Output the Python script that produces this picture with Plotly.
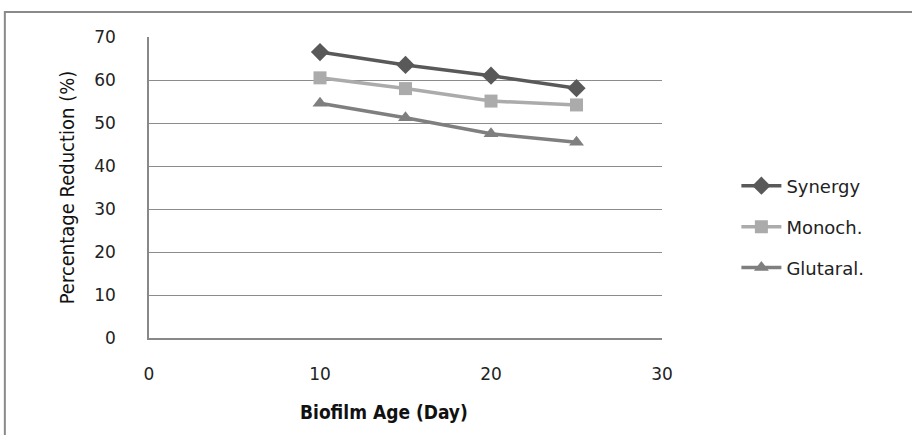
import plotly.graph_objects as go

days = [10, 15, 20, 25]
synergy = [66.5, 63.5, 61.0, 58.1]
monoch = [60.5, 58.0, 55.1, 54.2]
glutaral = [54.6, 51.2, 47.5, 45.5]
series_names = ["Synergy", "Monoch.", "Glutaral."]
x_ticks = [0, 10, 20, 30]
y_ticks = [0, 10, 20, 30, 40, 50, 60, 70]

fig = go.Figure()
styles = [
    (synergy, "#595959", "diamond", 14, "legend"),
    (monoch, "#ababab", "square", 13, "legend2"),
    (glutaral, "#7f7f7f", "triangle-up", 13, "legend3"),
]
for name, (vals, col, sym, sz, lg) in zip(series_names, styles):
    fig.add_trace(go.Scatter(
        x=days, y=vals, name=name, mode="lines+markers",
        line=dict(color=col, width=3.5),
        marker=dict(symbol=sym, size=sz, color=col),
        legend=lg, showlegend=True,
    ))

leg_font = dict(family="DejaVu Sans", size=18, color="#222")
def leg(ypos):
    return dict(x=1.145, y=ypos, xanchor="left", yanchor="middle",
                font=leg_font, itemwidth=40, bgcolor="rgba(0,0,0,0)")

fig.update_layout(
    width=912, height=435,
    showlegend=True,
    margin=dict(l=149, r=250, t=37, b=97),
    paper_bgcolor="white", plot_bgcolor="white",
    font=dict(family="DejaVu Sans", size=17, color="#222"),
    xaxis=dict(
        range=[0, 30], tickvals=x_ticks, showgrid=False,
        showline=True, linecolor="#888", linewidth=1.5, zeroline=False,
        ticks="", tickfont=dict(size=17, color="#222"),
        ticklabelstandoff=20,
    ),
    yaxis=dict(
        range=[0, 70], tickvals=y_ticks, showgrid=True, gridcolor="#8c8c8c",
        gridwidth=1, showline=True, linecolor="#888", linewidth=1.5,
        zeroline=False, ticks="", tickfont=dict(size=17, color="#222"),
        ticklabelstandoff=28,
        title=dict(text="Percentage Reduction (%)",
                   font=dict(family="DejaVu Sans Condensed, Liberation Sans", size=20, color="#111"),
                   standoff=14),
    ),
    legend=leg(0.505),
    legend2=leg(0.369),
    legend3=leg(0.233),
    annotations=[dict(
        text="<b>Biofilm Age (Day)</b>", xref="paper", yref="paper",
        x=0.458, y=-0.246, xanchor="center", yanchor="middle", showarrow=False,
        font=dict(family="DejaVu Sans Condensed, Liberation Sans", size=19, color="#111"),
    )],
    shapes=[dict(
        type="rect", xref="paper", yref="paper",
        x0=-0.281, x1=1.7, y0=-0.4, y1=1.083,
        line=dict(color="#8a8a8a", width=2), fillcolor="rgba(0,0,0,0)",
        layer="below",
    )],
)

fig.write_html("out.html")
